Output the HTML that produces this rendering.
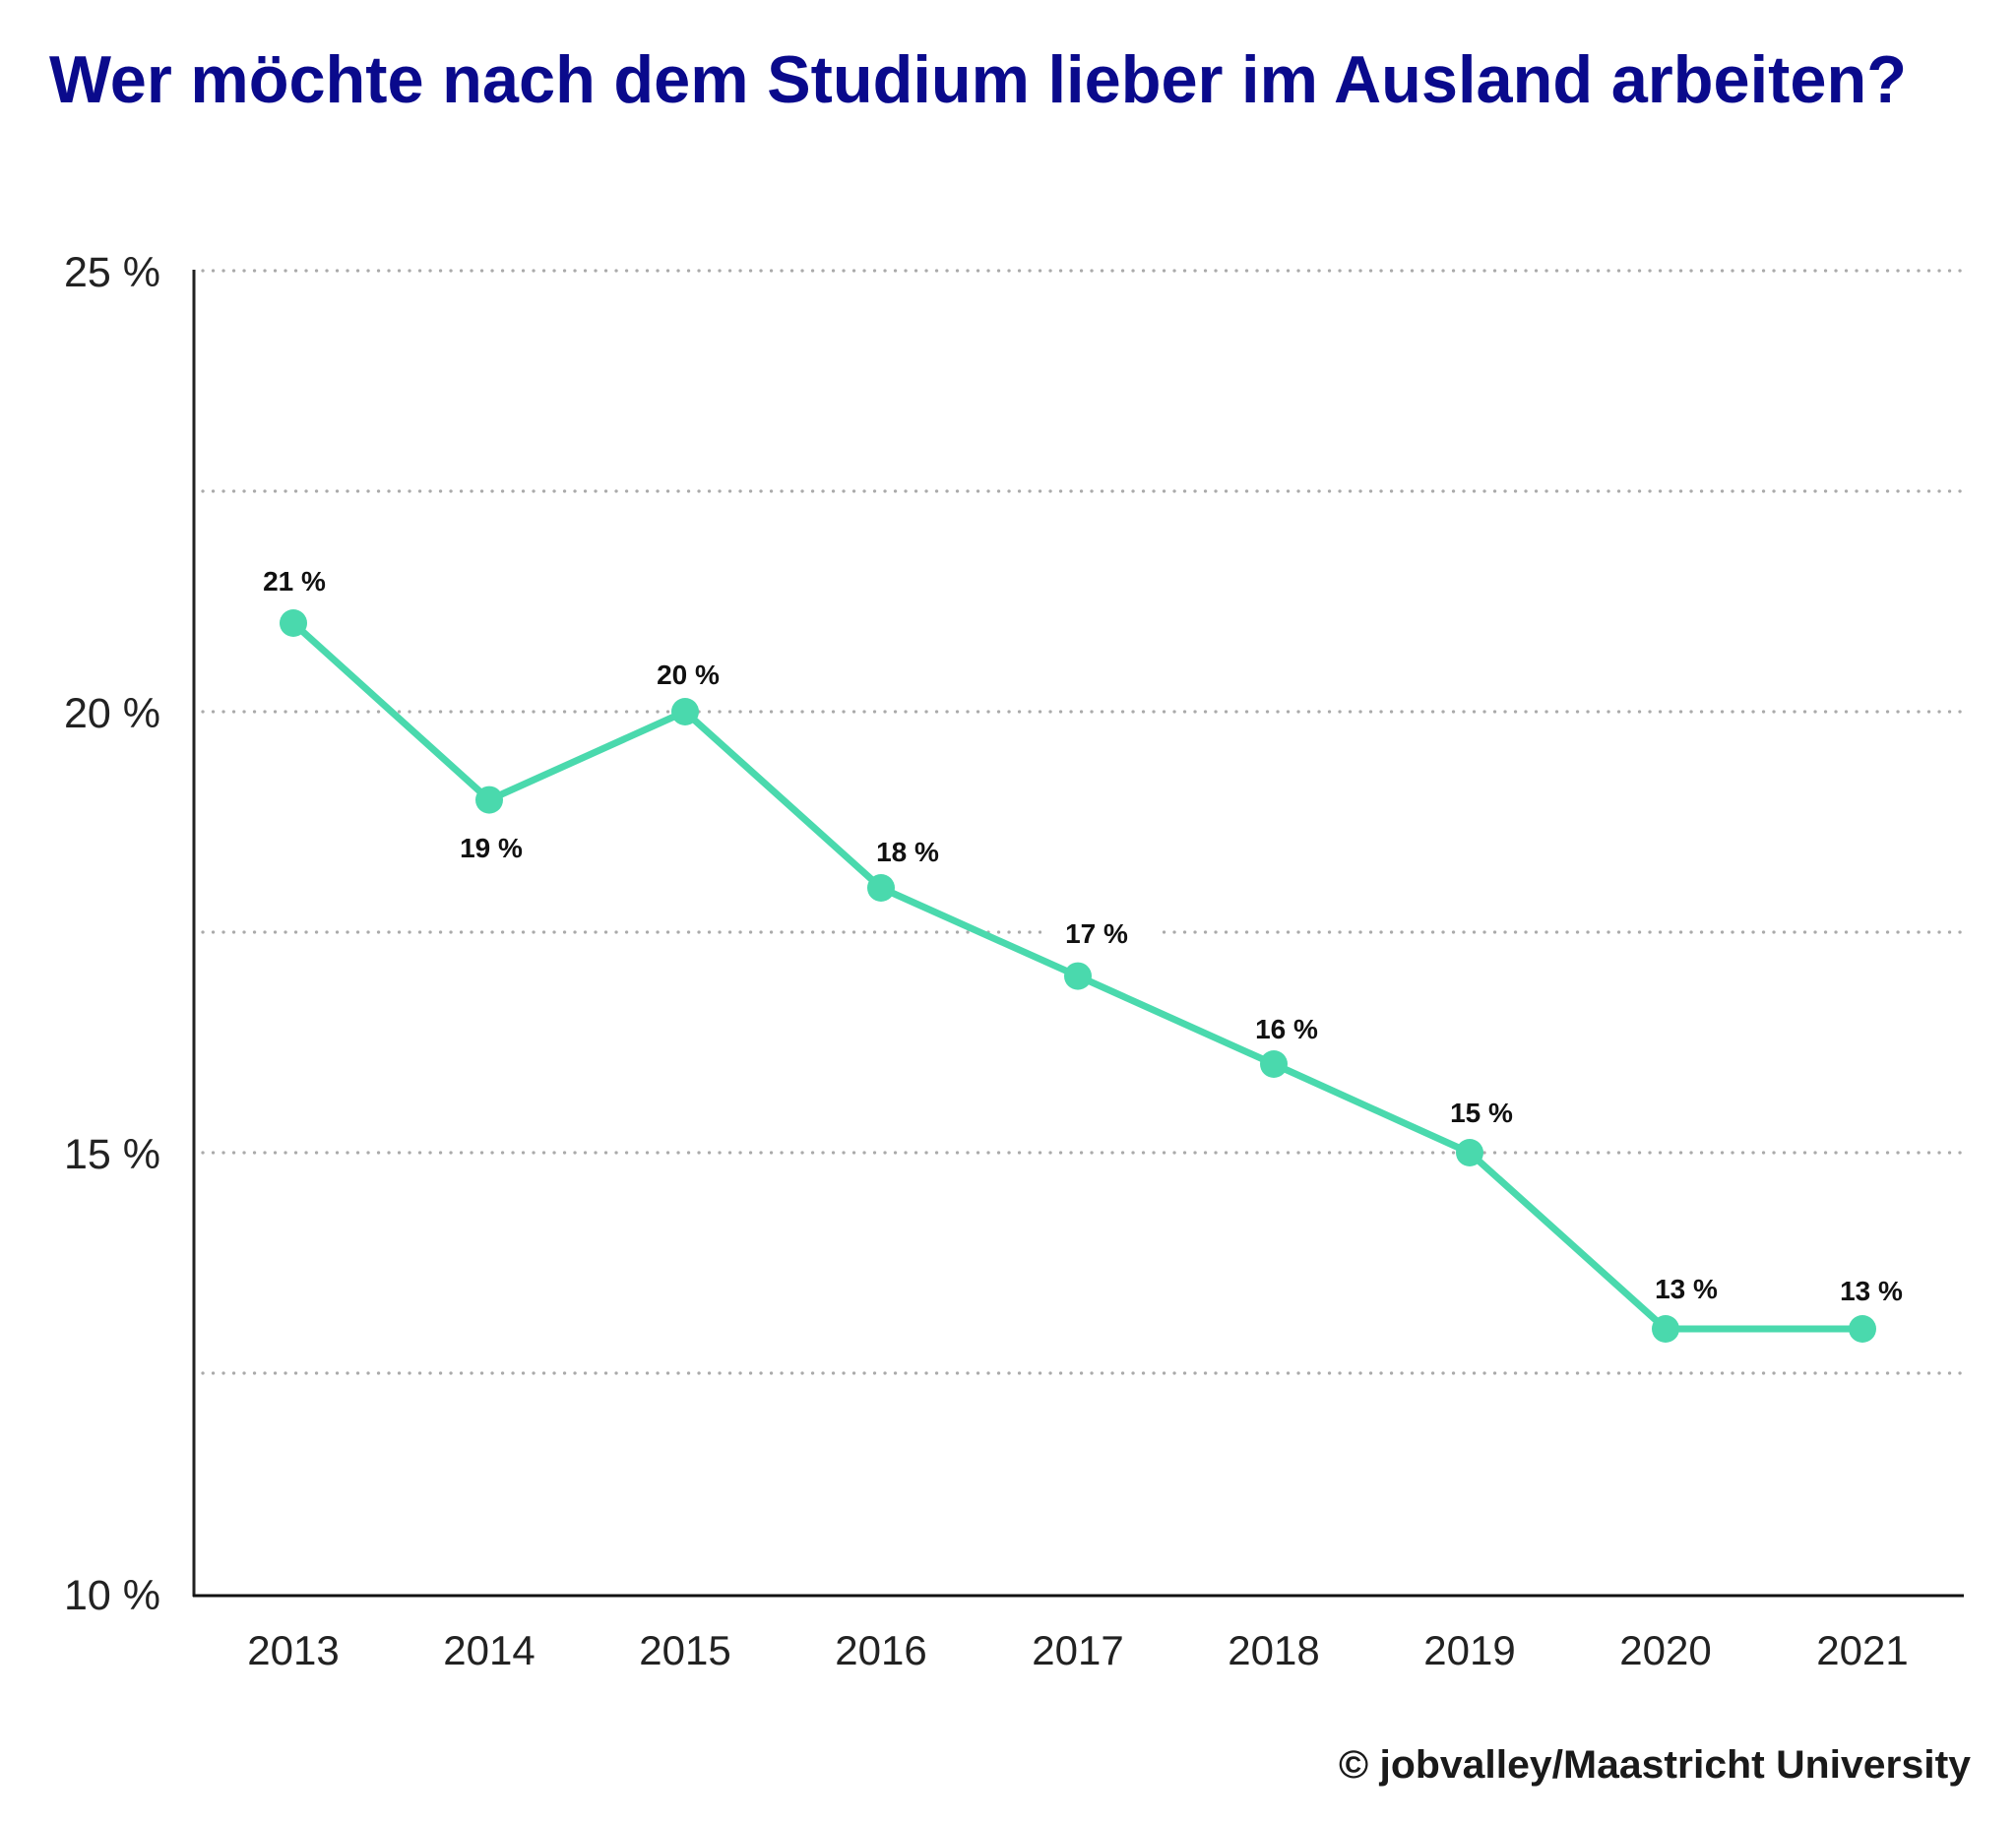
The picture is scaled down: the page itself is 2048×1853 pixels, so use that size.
<!DOCTYPE html>
<html><head><meta charset="utf-8"><style>
html,body{margin:0;padding:0;background:#fff;}
svg{display:block}
</style></head><body>
<svg width="2048" height="1853" viewBox="0 0 2048 1853" xmlns="http://www.w3.org/2000/svg">
<text x="50" y="104" font-family="Liberation Sans, sans-serif" font-weight="bold" font-size="68" fill="#0a0a8c" textLength="1887" lengthAdjust="spacingAndGlyphs">Wer möchte nach dem Studium lieber im Ausland arbeiten?</text>
<g stroke="#aaa" stroke-width="3.2" stroke-linecap="round" stroke-dasharray="0.1 10.4">
<line x1="206" y1="275" x2="1998" y2="275"/>
<line x1="206" y1="499" x2="1998" y2="499"/>
<line x1="206" y1="723" x2="1998" y2="723"/>
<line x1="206" y1="947" x2="1998" y2="947"/>
<line x1="206" y1="1171" x2="1998" y2="1171"/>
<line x1="206" y1="1395" x2="1998" y2="1395"/>
</g>
<line x1="197" y1="274" x2="197" y2="1622" stroke="#222" stroke-width="3"/>
<line x1="196" y1="1621" x2="1995" y2="1621" stroke="#111" stroke-width="3"/>
<g font-family="Liberation Sans, sans-serif" font-size="43" fill="#222" text-anchor="end">
<text x="163" y="291">25 %</text>
<text x="163" y="739">20 %</text>
<text x="163" y="1187">15 %</text>
<text x="163" y="1635">10 %</text>
</g>
<g font-family="Liberation Sans, sans-serif" font-size="42" fill="#222" text-anchor="middle">
<text x="298" y="1691">2013</text>
<text x="497" y="1691">2014</text>
<text x="696" y="1691">2015</text>
<text x="895" y="1691">2016</text>
<text x="1095" y="1691">2017</text>
<text x="1294" y="1691">2018</text>
<text x="1493" y="1691">2019</text>
<text x="1692" y="1691">2020</text>
<text x="1892" y="1691">2021</text>
</g>
<g fill="#fff">
<rect x="1058" y="925" width="116" height="38"/>
</g>
<polyline fill="none" stroke="#4ad9ad" stroke-width="7" stroke-linejoin="round" points="298,633 497,812.6 696,723 895,902 1095,991.6 1294,1081 1493,1171 1692,1350 1892,1350"/>
<g fill="#4ad9ad">
<circle cx="298" cy="633" r="14"/><circle cx="497" cy="812.6" r="14"/><circle cx="696" cy="723" r="14"/>
<circle cx="895" cy="902" r="14"/><circle cx="1095" cy="991.6" r="14"/><circle cx="1294" cy="1081" r="14"/>
<circle cx="1493" cy="1171" r="14"/><circle cx="1692" cy="1350" r="14"/><circle cx="1892" cy="1350" r="14"/>
</g>
<g font-family="Liberation Sans, sans-serif" font-weight="bold" font-size="28" fill="#111" text-anchor="middle">
<text x="299" y="600">21 %</text>
<text x="499" y="871">19 %</text>
<text x="699" y="695">20 %</text>
<text x="922" y="875">18 %</text>
<text x="1114" y="958">17 %</text>
<text x="1307" y="1055">16 %</text>
<text x="1505" y="1140">15 %</text>
<text x="1713" y="1319">13 %</text>
<text x="1901" y="1321">13 %</text>
</g>
<text x="1360" y="1806" font-family="Liberation Sans, sans-serif" font-weight="bold" font-size="40" fill="#1a1a1a" textLength="642" lengthAdjust="spacingAndGlyphs">© jobvalley/Maastricht University</text>
</svg>
</body></html>
